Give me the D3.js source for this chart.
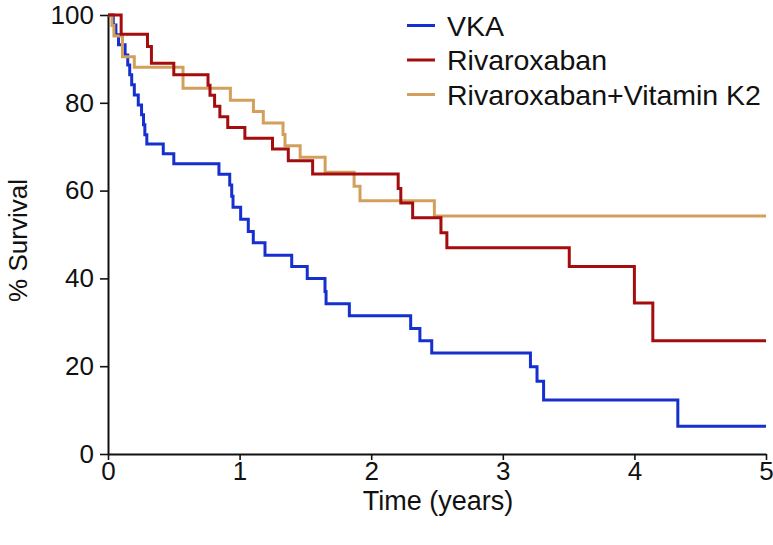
<!DOCTYPE html>
<html>
<head>
<meta charset="utf-8">
<script src="https://cdn.jsdelivr.net/npm/d3@7"></script>
<style>
  html, body { margin: 0; padding: 0; background: #fff; }
  svg { display: block; }
  text { font-family: "Liberation Sans", Arial, Helvetica, sans-serif; fill: #111; }
</style>
</head>
<body>
<svg id="chart" width="773" height="545"></svg>
<script>
// ---- data ----
const seriesNames = ["VKA", "Rivaroxaban", "Rivaroxaban+Vitamin K2"];
const seriesColors = ["#1530cf", "#a40d0d", "#d2a05c"];

const vkaTimes = [0, 0.04, 0.06, 0.08, 0.13, 0.15, 0.165, 0.18, 0.20, 0.23, 0.255, 0.27, 0.28, 0.295, 0.42, 0.50, 0.843, 0.925, 0.94, 0.95, 1.008, 1.066, 1.104, 1.193, 1.396, 1.514, 1.649, 1.657, 1.834, 2.30, 2.37, 2.46, 3.21, 3.26, 3.31, 4.33, 5];
const vkaSurv  = [100, 97.7, 95.5, 93.2, 90.9, 88.6, 86.4, 84.1, 81.8, 79.5, 77.3, 75.0, 72.7, 70.6, 68.4, 66.1, 63.7, 61.3, 58.7, 56.2, 53.5, 50.7, 48.1, 45.3, 42.7, 40.0, 37.0, 34.2, 31.5, 28.6, 25.8, 23.0, 19.9, 16.6, 12.3, 6.3, 6.3];

const rivTimes = [0, 0.10, 0.30, 0.33, 0.50, 0.76, 0.775, 0.81, 0.85, 0.91, 1.04, 1.25, 1.37, 1.555, 2.205, 2.225, 2.315, 2.53, 2.575, 3.505, 4.0, 4.14, 5];
const rivSurv  = [100, 95.6, 92.8, 89.0, 86.4, 84.0, 81.7, 79.2, 76.8, 74.4, 71.9, 69.5, 66.8, 63.8, 60.5, 57.2, 53.8, 50.4, 47.0, 42.7, 34.4, 25.8, 25.8];

const k2Times = [0, 0.03, 0.045, 0.11, 0.20, 0.57, 0.93, 1.105, 1.18, 1.33, 1.345, 1.46, 1.65, 1.87, 1.915, 2.48, 5];
const k2Surv  = [100, 97.6, 95.2, 90.5, 88.1, 83.3, 80.6, 78.0, 75.4, 72.8, 70.2, 67.6, 64.2, 61.0, 57.7, 54.2, 54.2];

const xTicks = [0, 1, 2, 3, 4, 5];
const yTicks = [0, 20, 40, 60, 80, 100];
const xTitle = "Time (years)";
const yTitle = "% Survival";

// ---- drawing ----
const W = 773, H = 545;
const margin = { left: 108, top: 15, right: 7, bottom: 91 };
const svg = d3.select("#chart");

const x = d3.scaleLinear().domain([0, 5]).range([margin.left, W - margin.right]);
const y = d3.scaleLinear().domain([0, 100]).range([H - margin.bottom, margin.top]);

const FS = 26;

// axes
const xAxis = d3.axisBottom(x).tickValues(xTicks).tickFormat(d3.format("d")).tickSizeInner(6).tickSizeOuter(0).tickPadding(2);
const yAxis = d3.axisLeft(y).tickValues(yTicks).tickFormat(d3.format("d")).tickSizeInner(8).tickSizeOuter(0).tickPadding(6);

const gx = svg.append("g").attr("transform", `translate(0,${y(0)})`).call(xAxis);
const gy = svg.append("g").attr("transform", `translate(${x(0)},0)`).call(yAxis);
[gx, gy].forEach(g => {
  g.selectAll("path.domain").attr("stroke", "#111").attr("stroke-width", 2);
  g.selectAll(".tick line").attr("stroke", "#111").attr("stroke-width", 1.6);
  g.selectAll(".tick text").attr("font-size", FS).attr("fill", "#111")
    .attr("font-family", "\"Liberation Sans\", Arial, Helvetica, sans-serif");
});

// axis titles
svg.append("text").attr("x", (x(0) + x(5)) / 2 + 1).attr("y", 510)
  .attr("text-anchor", "middle").attr("font-size", 27).text(xTitle);
svg.append("text").attr("transform", `translate(27,${(y(0) + y(100)) / 2 + 6}) rotate(-90)`)
  .attr("text-anchor", "middle").attr("font-size", FS).text(yTitle);

// curves
const series = [
  { name: seriesNames[0], color: seriesColors[0], t: vkaTimes, s: vkaSurv },
  { name: seriesNames[1], color: seriesColors[1], t: rivTimes, s: rivSurv },
  { name: seriesNames[2], color: seriesColors[2], t: k2Times, s: k2Surv }
];
const line = d3.line().x(d => x(d[0])).y(d => y(d[1])).curve(d3.curveStepAfter);

// draw order: VKA, tan, red (red above tan)
[series[0], series[2], series[1]].forEach(sr => {
  svg.append("path")
    .datum(sr.t.map((t, i) => [t, sr.s[i]]))
    .attr("fill", "none")
    .attr("stroke", sr.color)
    .attr("stroke-width", 3)
    .attr("stroke-linejoin", "miter")
    .attr("d", line);
});

// legend
const lg = svg.append("g");
series.forEach((sr, i) => {
  const yy = 25.5 + i * 34.5;
  lg.append("line").attr("x1", 407).attr("x2", 435).attr("y1", yy).attr("y2", yy)
    .attr("stroke", sr.color).attr("stroke-width", 3);
  lg.append("text").attr("x", 447).attr("y", yy).attr("dy", "0.36em")
    .attr("font-size", 28.5).text(sr.name);
});
</script>
</body>
</html>
